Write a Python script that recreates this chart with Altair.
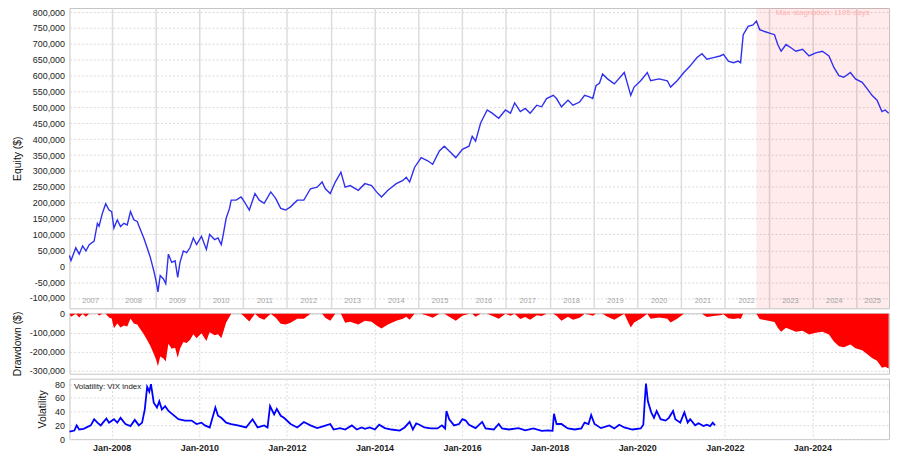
import altair as alt
import pandas as pd

# ---------------- data ----------------
eq_dates = [
    "2007-01-14", "2007-01-27", "2007-03-08", "2007-04-05", "2007-05-04", "2007-05-31", "2007-06-28",
    "2007-08-08", "2007-09-04", "2007-09-18", "2007-10-16", "2007-11-12", "2007-12-10", "2008-01-01",
    "2008-01-20", "2008-02-17", "2008-03-15", "2008-04-12", "2008-05-10", "2008-06-06", "2008-07-04",
    "2008-08-01", "2008-08-28", "2008-09-25", "2008-10-23", "2008-11-19", "2008-12-17", "2009-01-05",
    "2009-01-21", "2009-02-09", "2009-03-08", "2009-03-27", "2009-04-18", "2009-05-16", "2009-06-13",
    "2009-07-05", "2009-07-24", "2009-08-21", "2009-09-17", "2009-10-15", "2009-11-12", "2009-12-09",
    "2010-01-19", "2010-03-01", "2010-03-28", "2010-05-09", "2010-06-06", "2010-07-03", "2010-07-17",
    "2010-08-13", "2010-09-10", "2010-09-24", "2010-11-04", "2010-12-16", "2011-01-12", "2011-02-22",
    "2011-04-10", "2011-05-16", "2011-06-26", "2011-08-20", "2011-10-01", "2011-11-11", "2011-12-22",
    "2012-02-01", "2012-03-28", "2012-05-22", "2012-07-16", "2012-09-10", "2012-10-21", "2012-11-17",
    "2012-12-28", "2013-02-08", "2013-03-27", "2013-05-01", "2013-06-12", "2013-08-19", "2013-10-13",
    "2013-12-08", "2014-01-18", "2014-02-28", "2014-04-23", "2014-07-02", "2014-08-26", "2014-09-23",
    "2014-10-21", "2014-12-01", "2015-01-25", "2015-03-21", "2015-05-01", "2015-06-26", "2015-08-06",
    "2015-09-16", "2015-11-10", "2016-01-04", "2016-02-28", "2016-03-26", "2016-04-23", "2016-06-04",
    "2016-07-29", "2016-09-08", "2016-11-02", "2016-12-28", "2017-02-08", "2017-03-15", "2017-05-01",
    "2017-06-11", "2017-07-22", "2017-09-15", "2017-10-26", "2017-12-06", "2018-01-31", "2018-02-27",
    "2018-04-09", "2018-06-03", "2018-07-14", "2018-09-08", "2018-10-19", "2018-11-29", "2018-12-26",
    "2019-01-23", "2019-02-20", "2019-03-18", "2019-04-28", "2019-06-24", "2019-09-15", "2019-10-12",
    "2019-11-08", "2019-12-06", "2020-01-30", "2020-03-25", "2020-04-22", "2020-07-01", "2020-09-08",
    "2020-10-05", "2020-11-29", "2021-01-24", "2021-03-18", "2021-05-14", "2021-06-24", "2021-08-04",
    "2021-09-28", "2021-11-22", "2021-12-20", "2022-01-30", "2022-03-13", "2022-04-23", "2022-05-12",
    "2022-06-03", "2022-07-14", "2022-08-24", "2022-09-21", "2022-10-18", "2022-11-28", "2023-01-09",
    "2023-02-19", "2023-03-18", "2023-04-15", "2023-05-26", "2023-07-06", "2023-08-16", "2023-10-11",
    "2023-12-04", "2024-01-29", "2024-03-24", "2024-05-18", "2024-06-28", "2024-08-09", "2024-09-19",
    "2024-11-13", "2024-12-25", "2025-02-19", "2025-04-01", "2025-05-12", "2025-06-23", "2025-08-03",
    "2025-08-30", "2025-09-28",
]

# equity, thousands of $
equity_k = [
    34, 18, 58, 38, 64, 48, 68,
    79, 135, 126, 167, 197, 177, 172,
    120, 146, 125, 135, 130, 172, 146,
    141, 115, 89, 58, 27, -14, -45,
    -81, -29, -40, -55, 38, 12, 17,
    -35, 12, 48, 43, 58, 89, 68,
    94, 53, 100, 84, 89, 68, 94,
    151, 182, 208, 208, 218, 203, 177,
    229, 208, 198, 234, 213, 182, 177,
    187, 208, 208, 244, 249, 265, 244,
    229, 265, 296, 249, 254, 239, 260,
    254, 234, 218, 239, 260, 270, 280,
    265, 311, 342, 332, 321, 363, 378,
    363, 342, 368, 378, 409, 394, 451,
    492, 482, 466, 492, 482, 514, 487,
    497, 482, 507, 502, 528, 538, 528,
    502, 523, 507, 517, 538, 533, 528,
    569, 576, 605, 590, 574, 610, 574,
    538, 564, 584, 610, 584, 590, 584,
    564, 584, 610, 631, 657, 669, 652,
    657, 662, 667, 646, 641, 646, 641,
    729, 755, 760, 772, 745, 739, 734,
    729, 698, 677, 698, 688, 677, 683,
    662, 672, 677, 662, 626, 600, 595,
    610, 590, 579, 559, 538, 523, 487,
    492, 482,
]

# drawdown, thousands of $
drawdown_k = [
    0, -16, 0, -20, 0, -16, 0,
    0, 0, -9, 0, 0, -20, -25,
    -77, -51, -72, -62, -67, -25, -51,
    -56, -82, -108, -139, -170, -211, -242,
    -278, -226, -237, -252, -159, -185, -180,
    -232, -185, -149, -154, -139, -108, -129,
    -103, -144, -97, -113, -108, -129, -103,
    -46, -15, 0, 0, 0, -15, -41,
    0, -21, -31, 0, -21, -52, -57,
    -47, -26, -26, 0, 0, 0, -21,
    -36, 0, 0, -47, -42, -57, -36,
    -42, -62, -78, -57, -36, -26, -16,
    -31, 0, 0, -10, -21, 0, 0,
    -15, -36, -10, 0, 0, -15, 0,
    0, -10, -26, 0, -10, 0, -27,
    -17, -32, -7, -12, 0, 0, -10,
    -36, -15, -31, -21, 0, -5, -10,
    0, 0, 0, -15, -31, 0, -36,
    -72, -46, -26, 0, -26, -20, -26,
    -46, -26, 0, 0, 0, 0, -17,
    -12, -7, -2, -23, -28, -23, -28,
    0, 0, 0, 0, -27, -33, -38,
    -43, -74, -95, -74, -84, -95, -89,
    -110, -100, -95, -110, -146, -172, -177,
    -162, -182, -193, -213, -234, -249, -285,
    -280, -290,
]

vix_dates = [
    "2007-01-14", "2007-02-24", "2007-03-15", "2007-04-05", "2007-05-12", "2007-07-11", "2007-08-08",
    "2007-09-04", "2007-10-02", "2007-11-18", "2007-12-10", "2008-01-20", "2008-02-17", "2008-03-15",
    "2008-04-25", "2008-06-06", "2008-07-12", "2008-08-15", "2008-09-11", "2008-10-03", "2008-10-23",
    "2008-11-10", "2008-11-24", "2008-12-17", "2009-01-13", "2009-02-01", "2009-02-23", "2009-03-22",
    "2009-04-19", "2009-05-31", "2009-07-11", "2009-09-04", "2009-10-29", "2009-12-09", "2010-01-19",
    "2010-02-16", "2010-03-29", "2010-05-15", "2010-06-06", "2010-07-03", "2010-08-13", "2010-09-24",
    "2010-11-18", "2011-01-26", "2011-03-21", "2011-05-02", "2011-06-26", "2011-07-24", "2011-08-14",
    "2011-09-17", "2011-10-09", "2011-11-11", "2011-12-08", "2012-02-01", "2012-03-28", "2012-05-22",
    "2012-07-16", "2012-09-10", "2012-11-04", "2012-12-28", "2013-01-25", "2013-03-20", "2013-05-01",
    "2013-06-26", "2013-08-06", "2013-09-16", "2013-10-13", "2013-11-23", "2014-01-04", "2014-02-09",
    "2014-03-28", "2014-05-22", "2014-07-30", "2014-09-09", "2014-10-21", "2014-11-17", "2014-12-15",
    "2015-01-11", "2015-02-21", "2015-04-17", "2015-06-11", "2015-07-17", "2015-08-13", "2015-08-24",
    "2015-09-16", "2015-10-27", "2015-12-07", "2016-01-04", "2016-02-01", "2016-02-28", "2016-04-23",
    "2016-06-17", "2016-07-15", "2016-09-22", "2016-11-02", "2016-11-30", "2017-01-25", "2017-04-17",
    "2017-06-11", "2017-08-18", "2017-10-26", "2017-12-20", "2018-01-25", "2018-02-06", "2018-02-27",
    "2018-04-09", "2018-05-20", "2018-06-03", "2018-07-28", "2018-09-22", "2018-10-19", "2018-11-21",
    "2018-12-13", "2019-01-10", "2019-03-05", "2019-05-14", "2019-06-24", "2019-08-04", "2019-09-15",
    "2019-11-22", "2020-01-30", "2020-02-21", "2020-03-03", "2020-03-14", "2020-03-30", "2020-04-27",
    "2020-05-20", "2020-06-11", "2020-07-14", "2020-08-24", "2020-09-21", "2020-10-26", "2020-11-14",
    "2020-12-25", "2021-01-28", "2021-02-25", "2021-03-18", "2021-04-28", "2021-05-26", "2021-07-07",
    "2021-08-03", "2021-08-31", "2021-09-22", "2021-10-11",
]
vix_values = [
    11, 12.5, 20, 14, 15, 20, 29,
    24, 20, 30, 24, 29, 24, 31,
    22, 19, 28, 20, 24, 43, 76,
    69, 80, 53, 46, 55, 43, 48,
    41, 35, 29, 27, 27, 22, 24,
    20, 17, 46, 34, 31, 24, 22,
    20, 17, 29, 17, 20, 17, 48,
    36, 44, 34, 31, 22, 17, 25,
    20, 16, 19, 22, 14, 16, 14,
    20, 14, 17, 15, 17, 14, 21,
    16, 14, 12.5, 17, 25, 14, 23,
    21, 17, 15.5, 15.5, 20, 15.5, 41,
    29, 20, 22, 29, 27, 21, 16,
    25, 15.5, 14, 22, 15.5, 14, 16,
    12.7, 15.5, 12, 12.7, 12, 37, 22,
    22, 17, 15.5, 14, 15.5, 24, 22,
    35, 22, 16, 20, 15.5, 21, 17,
    14, 15.5, 21, 53, 81, 55, 39,
    31, 41, 29, 27, 31, 41, 29,
    24, 39, 24, 29, 20, 23, 19,
    21, 19, 24, 20,
]

years = list(range(2007, 2026))
x_start = "2007-01-14"
x_end = "2025-10-01"
stag_start = "2022-09-21"
stag_label = "Max stagnation: 1105 days"
vix_label = "Volatility: VIX index"

assert len(eq_dates) == len(equity_k) == len(drawdown_k)
assert len(vix_dates) == len(vix_values)

# ---------------- tables ----------------
eq = pd.DataFrame({
    "date": eq_dates,
    "equity": [v * 1000 for v in equity_k],
    "drawdown": [v * 1000 for v in drawdown_k],
})
vix = pd.DataFrame({"date": vix_dates, "vix": vix_values})

t0, t1 = pd.Timestamp(x_start), pd.Timestamp(x_end)
year_rows = []
for y in years:
    a = max(pd.Timestamp(f"{y}-01-01"), t0)
    b = min(pd.Timestamp(f"{y + 1}-01-01"), t1)
    year_rows.append({"date": (a + (b - a) / 2).strftime("%Y-%m-%d"), "label": str(y)})
year_df = pd.DataFrame(year_rows)

s0 = pd.Timestamp(stag_start)
stag_df = pd.DataFrame({"start": [stag_start], "end": [x_end],
                        "mid": [(s0 + (t1 - s0) / 2).strftime("%Y-%m-%d")],
                        "label": [stag_label]})

# ---------------- chart ----------------
W = 827
FONT = "Liberation Sans"
xdomain = [alt.DateTime(year=2007, month=1, date=14, utc=True),
           alt.DateTime(year=2025, month=10, date=1, utc=True)]
xscale = alt.Scale(type="utc", domain=xdomain)
neg_fmt = "(datum.value < 0 ? '-' : '') + format(abs(datum.value), ',d')"

y_axis_common = dict(
    labelFontSize=9, labelColor="#222", labelPadding=5, ticks=False, domain=False,
    gridColor="#d9d9d9", gridDash=[2, 2], titleFontSize=10.5, titleFontWeight="normal",
    titleColor="#111", titlePadding=7,
)

year_axis = alt.Axis(labels=False, ticks=False, domain=False, grid=True,
                     gridColor="#dcdcdc", gridWidth=1.5,
                     tickCount=alt.TimeIntervalStep(interval="year", step=1))

stag_rect = alt.Chart(stag_df).mark_rect(color="#ff0000", opacity=0.08).encode(
    x=alt.X("start:T", scale=xscale, title=None, axis=year_axis),
    x2="end:T",
)
equity_line = alt.Chart(eq).mark_line(color="#2f2ff0", strokeWidth=1.4).encode(
    x=alt.X("date:T", scale=xscale, title=None, axis=year_axis),
    y=alt.Y("equity:Q", title="Equity ($)",
            scale=alt.Scale(domain=[-132500, 813000], nice=False, zero=False),
            axis=alt.Axis(values=list(range(-100000, 800001, 50000)), labelExpr=neg_fmt,
                          **y_axis_common)),
)
year_text = alt.Chart(year_df).mark_text(color="#a3a3a3", fontSize=7.5, font=FONT,
                                         baseline="middle").encode(
    x=alt.X("date:T", scale=xscale), y=alt.value(296), text="label:N")
stag_text = alt.Chart(stag_df).mark_text(color="#ffb0b0", fontSize=8, font=FONT,
                                         baseline="middle").encode(
    x=alt.X("mid:T", scale=xscale), y=alt.value(4.8), text="label:N")

top = alt.layer(stag_rect, equity_line, year_text, stag_text).properties(width=W, height=303)

x_mid = alt.X("date:T", scale=xscale, title=None,
              axis=alt.Axis(labels=False, ticks=False, domain=False, grid=True,
                            gridColor="#d9d9d9", gridDash=[2, 2],
                            tickCount=alt.TimeIntervalStep(interval="year", step=2)))
dd = alt.Chart(eq).mark_area(color="#ff0000", interpolate="linear").encode(
    x=x_mid,
    y=alt.Y("drawdown:Q", title="Drawdown ($)",
            scale=alt.Scale(domain=[-317000, 3000], nice=False, zero=False),
            axis=alt.Axis(values=[0, -100000, -200000, -300000], labelExpr=neg_fmt,
                          **y_axis_common)),
    y2=alt.datum(0),
).properties(width=W, height=61)

x_bot = alt.X("date:T", scale=xscale, title=None,
              axis=alt.Axis(format="%b-%Y", labelFontSize=9, labelFontWeight="bold",
                            labelColor="#222", labelPadding=4, ticks=False, domain=False,
                            grid=True, gridColor="#d9d9d9", gridDash=[2, 2],
                            tickCount=alt.TimeIntervalStep(interval="year", step=2)))
vol_line = alt.Chart(vix).mark_line(color="#0000ff", strokeWidth=1.8).encode(
    x=x_bot,
    y=alt.Y("vix:Q", title="Volatility",
            scale=alt.Scale(domain=[0, 88], nice=False),
            axis=alt.Axis(values=[0, 20, 40, 60, 80], **y_axis_common)),
)
vol_text = alt.Chart(pd.DataFrame({"label": [vix_label]})).mark_text(
    color="#222", fontSize=8, font=FONT, align="left", baseline="middle").encode(
    x=alt.value(4.5), y=alt.value(8), text="label:N")
vol = alt.layer(vol_line, vol_text).properties(width=W, height=61)

chart = alt.vconcat(top, dd, vol, spacing=5, bounds="flush").properties(
    padding={"left": 3, "top": -3, "right": 0, "bottom": 0},
    background="white",
).configure(font=FONT).configure_view(stroke="#c4c4c4", strokeWidth=1)

chart.save("out.html", embed_options={"renderer": "svg", "actions": False})
